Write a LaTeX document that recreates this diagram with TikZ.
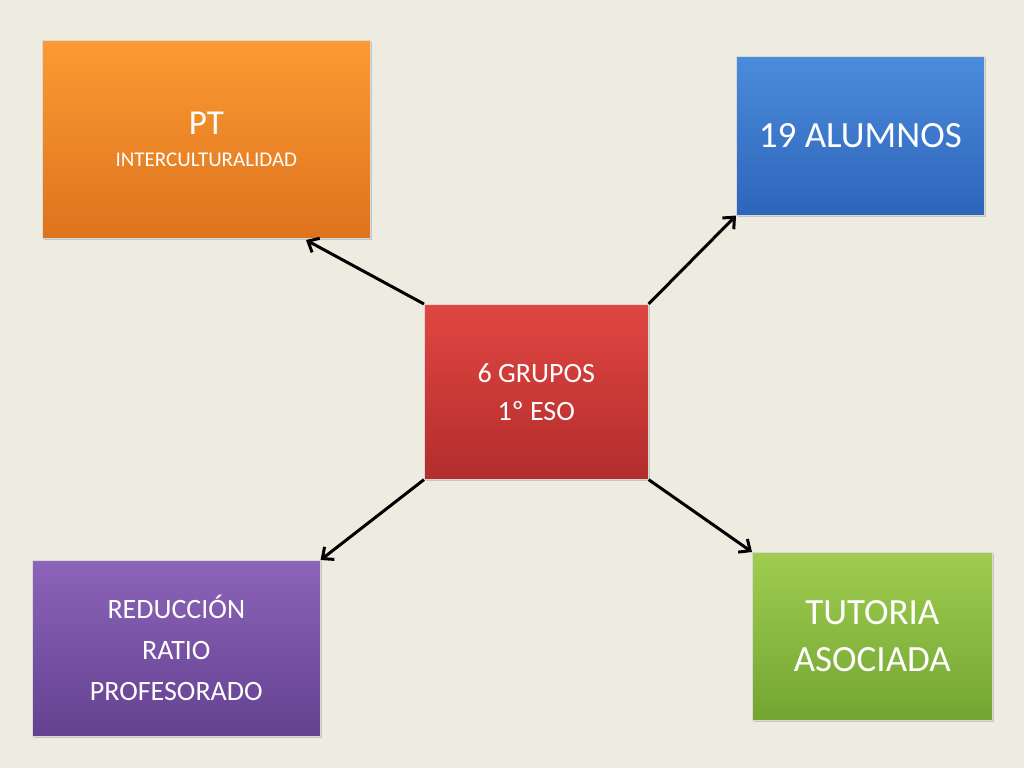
\documentclass[tikz,border=0pt]{standalone}
\usepackage{fontspec}
\setmainfont{Carlito}
\usetikzlibrary{arrows.meta,shadows}
\begin{document}
\begin{tikzpicture}[x=1pt,y=-1pt,
 box/.style={draw=white!70!gray,line width=0.6pt,anchor=north west,inner sep=0pt,align=center,text=white,drop shadow={shadow xshift=2pt,shadow yshift=-2pt,opacity=0.35}},
 conn/.style={line width=3pt,-{Straight Barb[length=9pt,width=16pt,line width=3pt]}}]
\fill[fill={rgb,255:red,238;green,235;blue,225}] (0,0) rectangle (1024,768);
\useasboundingbox (0,0) rectangle (1024,768);
\node[box,minimum width=328pt,minimum height=198pt,top color={rgb,255:red,251;green,155;blue,50},bottom color={rgb,255:red,222;green,115;blue,30},font=\fontsize{21}{36}\selectfont] (pt) at (42,40) {{\fontsize{35}{36}\selectfont PT}\\[-4pt]INTERCULTURALIDAD};
\node[box,minimum width=248pt,minimum height=159pt,top color={rgb,255:red,75;green,140;blue,220},bottom color={rgb,255:red,45;green,100;blue,185},font=\fontsize{37}{40}\selectfont] (al) at (736,56) {19 ALUMNOS};
\node[box,minimum width=224pt,minimum height=175pt,top color={rgb,255:red,225;green,70;blue,65},bottom color={rgb,255:red,178;green,45;blue,45},font=\fontsize{28}{38}\selectfont] (c) at (424,304) {6 GRUPOS\\1º ESO};
\node[box,minimum width=288pt,minimum height=176pt,top color={rgb,255:red,140;green,100;blue,185},bottom color={rgb,255:red,100;green,65;blue,145},font=\fontsize{28}{41}\selectfont] (re) at (32,560) {REDUCCIÓN\\RATIO\\PROFESORADO};
\node[box,minimum width=240pt,minimum height=168pt,top color={rgb,255:red,160;green,205;blue,80},bottom color={rgb,255:red,115;green,165;blue,50},font=\fontsize{37}{47}\selectfont] (tu) at (752,552) {TUTORIA\\ASOCIADA};
\draw[conn] (c.north west) -- (306,240) coordinate (a1);
\draw[conn] (c.north east) -- (al.south west);
\draw[conn] (c.south west) -- (re.north east);
\draw[conn] (c.south east) -- (tu.north west);
\end{tikzpicture}
\end{document}
